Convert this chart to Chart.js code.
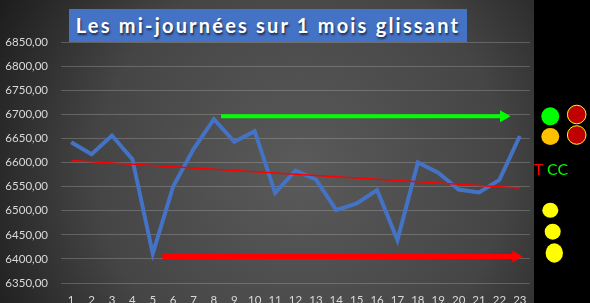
<!DOCTYPE html>
<html>
<head>
<meta charset="utf-8">
<script src="https://cdn.jsdelivr.net/npm/chart.js@4"></script>
<style>
  body { margin: 0; background: #000; }
  #wrap { position: relative; width: 590px; height: 303px; overflow: hidden; }
  #title {
    position: absolute; left: 69px; top: 9px; width: 398px; height: 33px;
    background: #4472C4; color: #fff; font: bold 20px Lato, sans-serif;
    letter-spacing: 2.2px; line-height: 33px; text-align: center;
    text-shadow: 1px 2px 2px rgba(0,0,0,0.6);
  }
</style>
</head>
<body>
<div id="wrap">
  <canvas id="myChart" width="590" height="303"></canvas>
  <div id="title">Les mi-journées sur 1 mois glissant</div>
</div>
<script>
const days = [1,2,3,4,5,6,7,8,9,10,11,12,13,14,15,16,17,18,19,20,21,22,23];
const prices = [6642,6617,6656,6607,6411,6550,6628,6690,6643,6665,6537,6583,6565,6501,6515,6543,6439,6600,6579,6544,6538,6564,6655];
// trend line read at first and last day
const trendStart = 6604;
const trendEnd = 6547;
// arrows drawn on the chart (x in day units)
const greenArrow = [{x: 8.35, y: 6696}, {x: 22.2, y: 6696}];
const redArrow = [{x: 5.47, y: 6405}, {x: 22.8, y: 6405}];

const lineData = days.map((d, i) => ({x: d, y: prices[i]}));
const trendData = [{x: days[0], y: trendStart}, {x: days[days.length - 1], y: trendEnd}];

const decor = {
  id: 'decor',
  beforeDraw(chart) {
    const c = chart.ctx;
    const g = c.createRadialGradient(300, 170, 0, 300, 170, 340);
    g.addColorStop(0, '#5a5a5a');
    g.addColorStop(0.6, '#454545');
    g.addColorStop(1, '#1e1e1e');
    c.save();
    c.fillStyle = g;
    c.fillRect(0, 0, 534, 303);
    c.fillStyle = '#000';
    c.fillRect(534, 0, 56, 303);
    c.restore();
  },
  afterDraw(chart) {
    const c = chart.ctx;
    c.save();
    const dot = (x, y, rx, ry, fill, stroke) => {
      c.beginPath();
      c.ellipse(x, y, rx, ry, 0, 0, Math.PI * 2);
      c.fillStyle = fill;
      c.fill();
      if (stroke) { c.strokeStyle = stroke; c.lineWidth = 1; c.stroke(); }
    };
    dot(550.3, 116.3, 9, 9, '#00FF00');
    dot(576.7, 114.5, 9.3, 9.3, '#C00000', '#FFFF00');
    dot(550.3, 136.5, 9, 8.5, '#FFC000');
    dot(576.7, 135, 9.3, 9.3, '#C00000', '#FFFF00');
    dot(550.3, 210.3, 8, 7.5, '#FFFF00');
    dot(552.7, 231.7, 8, 8, '#FFFF00');
    dot(554.3, 253, 8.7, 9.7, '#FFFF00');
    c.font = '16px Lato, sans-serif';
    c.textBaseline = 'alphabetic';
    c.fillStyle = '#FF0000';
    c.fillText('T', 534, 175);
    c.fillStyle = '#00FF00';
    c.fillText('CC', 547, 175);
    c.restore();
  }
};

new Chart(document.getElementById('myChart'), {
  type: 'line',
  data: {
    datasets: [
      {
        data: lineData,
        borderColor: '#4472C4',
        borderWidth: 4,
        pointRadius: 0,
        order: 3
      },
      {
        data: trendData,
        borderColor: '#FF0000',
        borderWidth: 1.5,
        pointRadius: 0,
        order: 2
      },
      {
        data: greenArrow,
        borderColor: '#00FF00',
        backgroundColor: '#00FF00',
        borderWidth: 4,
        pointStyle: 'triangle',
        pointRotation: 90,
        pointRadius: [0, 7],
        pointBorderWidth: 0,
        order: 1
      },
      {
        data: redArrow,
        borderColor: '#FF0000',
        backgroundColor: '#FF0000',
        borderWidth: 5,
        pointStyle: 'triangle',
        pointRotation: 90,
        pointRadius: [0, 7],
        pointBorderWidth: 0,
        order: 1
      }
    ]
  },
  options: {
    responsive: false,
    animation: false,
    events: [],
    layout: { padding: { top: 42, right: 60, left: 0, bottom: 0 } },
    plugins: { legend: { display: false }, tooltip: { enabled: false } },
    scales: {
      x: {
        type: 'linear',
        min: 0.5,
        max: 23.5,
        grid: { display: false, drawTicks: false },
        border: { display: false },
        afterBuildTicks: (axis) => { axis.ticks = days.map(v => ({ value: v })); },
        afterFit: (s) => { s.height = 20; },
        ticks: {
          color: '#D9D9D9',
          font: { family: 'Lato, sans-serif', size: 11.5 },
          padding: 10,
          maxRotation: 0,
          autoSkip: false,
          callback: (v) => String(v)
        }
      },
      y: {
        min: 6350,
        max: 6850,
        afterFit: (s) => { s.width = 61; },
        border: { display: false },
        grid: { color: 'rgba(217,217,217,0.25)', lineWidth: 1, drawTicks: false },
        ticks: {
          stepSize: 50,
          color: '#D9D9D9',
          padding: 13,
          font: { family: 'Lato, sans-serif', size: 11.5 },
          callback: (v) => v.toFixed(2).replace('.', ',')
        }
      }
    }
  },
  plugins: [decor]
});
</script>
</body>
</html>
